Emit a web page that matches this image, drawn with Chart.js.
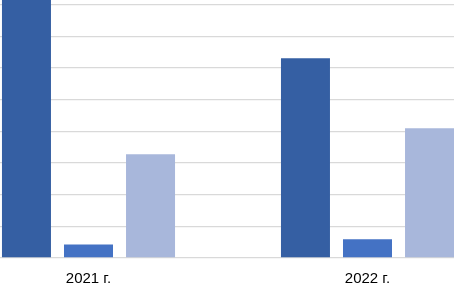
<!DOCTYPE html>
<html>
<head>
<meta charset="utf-8">
<script src="https://cdn.jsdelivr.net/npm/chart.js@4"></script>
<style>
  html, body { margin: 0; padding: 0; background: #fff; }
  #wrap { position: relative; width: 454px; height: 285px; overflow: hidden; }
  /* canvas is wider/taller than the view: the reference is a crop of a larger chart */
  #chart { position: absolute; left: -51px; top: -27px; }
</style>
</head>
<body>
<div id="wrap"><canvas id="chart" width="558" height="327"></canvas></div>
<script>
// Категории и ряды (в делениях сетки)
const years = ['2021 г.', '2022 г.'];
const ryad1 = [8.17, 6.31];
const ryad2 = [0.43, 0.59];
const ryad3 = [3.28, 4.10];

const colors = ['#355FA3', '#4472C4', '#A8B7DB'];

new Chart(document.getElementById('chart'), {
    type: 'bar',
    data: {
        labels: years,
        datasets: [
            { label: 'Ряд 1', data: ryad1, backgroundColor: colors[0] },
            { label: 'Ряд 2', data: ryad2, backgroundColor: colors[1] },
            { label: 'Ряд 3', data: ryad3, backgroundColor: colors[2] }
        ]
    },
    options: {
        responsive: false,
        animation: false,
        devicePixelRatio: 1,
        categoryPercentage: 0.667,
        barPercentage: 0.79,
        layout: { padding: 0 },
        plugins: { legend: { display: false }, tooltip: { enabled: false } },
        scales: {
            x: {
                grid: { display: false, drawTicks: false },
                border: { display: false },
                // высота оси = 2*padding + 18 (line height), поэтому низ области = 327 - 42 = 285
                ticks: { padding: 12, color: '#000', font: { family: 'Arial, "Liberation Sans"', size: 15 } }
            },
            y: {
                min: 0, max: 9,
                ticks: { display: false, stepSize: 1 },
                grid: { color: '#D9D9D9', lineWidth: 1.3, drawTicks: false },
                border: { display: false }
            }
        }
    }
});
</script>
</body>
</html>
